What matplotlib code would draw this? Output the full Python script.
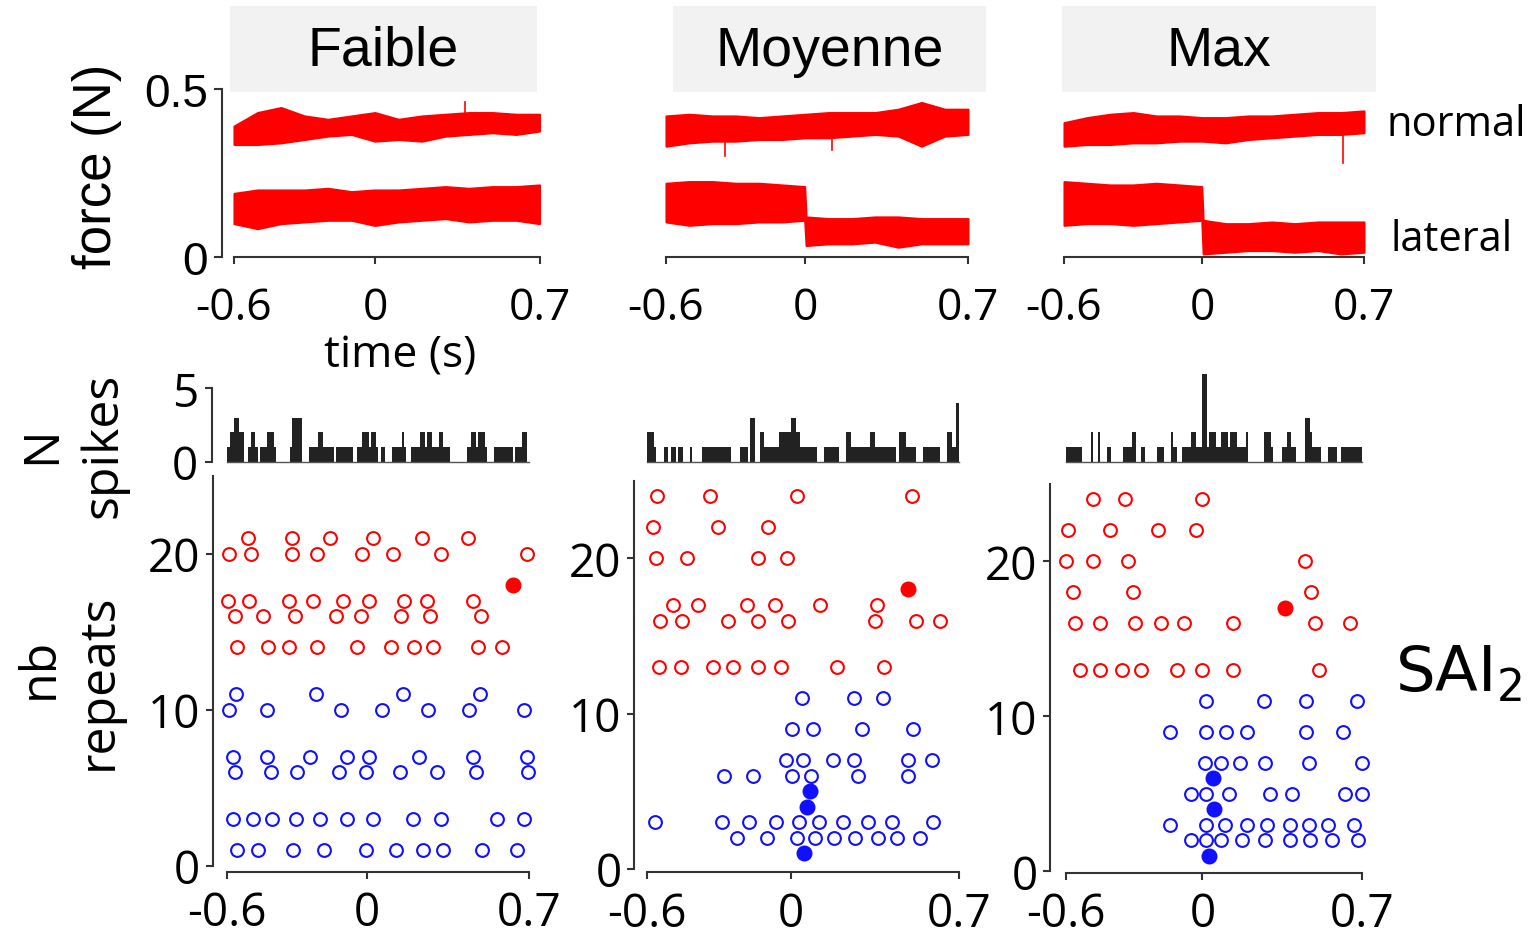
import matplotlib
matplotlib.use("Agg")
import matplotlib.pyplot as plt
from matplotlib.patches import Rectangle
import numpy as np

# ---------------- data ----------------
TITLES = ["Faible", "Moyenne", "Max"]
X_TICKS = [-0.6, 0, 0.7]
X_TICK_LABELS = ["-0.6", "0", "0.7"]

# force envelopes (N): normal force on a 0.1 s grid, lateral with a step at t=0
T_NORM = [-0.6, -0.5, -0.4, -0.3, -0.2, -0.1, 0.0, 0.1, 0.2, 0.3, 0.4, 0.5, 0.6, 0.7]
T_LAT = [-0.6, -0.5, -0.4, -0.3, -0.2, -0.1, -0.003, 0.003, 0.1, 0.2, 0.3, 0.4, 0.5, 0.6, 0.7]

NORM_UP = [
    [0.39, 0.43, 0.445, 0.42, 0.41, 0.42, 0.43, 0.41, 0.42, 0.425, 0.43, 0.43, 0.425, 0.425],
    [0.42, 0.425, 0.42, 0.42, 0.415, 0.42, 0.425, 0.43, 0.43, 0.43, 0.44, 0.46, 0.44, 0.44],
    [0.40, 0.415, 0.425, 0.43, 0.42, 0.42, 0.415, 0.415, 0.42, 0.42, 0.425, 0.43, 0.43, 0.435],
]
NORM_LO = [
    [0.335, 0.335, 0.34, 0.35, 0.36, 0.365, 0.345, 0.35, 0.345, 0.36, 0.365, 0.37, 0.365, 0.375],
    [0.33, 0.34, 0.345, 0.345, 0.35, 0.35, 0.355, 0.355, 0.36, 0.365, 0.36, 0.33, 0.36, 0.365],
    [0.33, 0.335, 0.335, 0.34, 0.34, 0.345, 0.345, 0.34, 0.35, 0.355, 0.36, 0.365, 0.365, 0.37],
]
LAT_UP = [
    [0.19, 0.20, 0.20, 0.20, 0.205, 0.195, 0.20, 0.20, 0.20, 0.205, 0.21, 0.205, 0.21, 0.21, 0.215],
    [0.22, 0.225, 0.225, 0.22, 0.22, 0.215, 0.21, 0.12, 0.115, 0.115, 0.12, 0.12, 0.115, 0.115, 0.115],
    [0.225, 0.22, 0.215, 0.215, 0.22, 0.215, 0.21, 0.11, 0.10, 0.10, 0.105, 0.10, 0.105, 0.105, 0.105],
]
LAT_LO = [
    [0.10, 0.085, 0.10, 0.105, 0.11, 0.11, 0.095, 0.095, 0.105, 0.11, 0.115, 0.105, 0.11, 0.11, 0.10],
    [0.105, 0.095, 0.10, 0.10, 0.105, 0.105, 0.11, 0.035, 0.04, 0.04, 0.045, 0.03, 0.04, 0.04, 0.04],
    [0.095, 0.10, 0.10, 0.095, 0.10, 0.105, 0.11, 0.01, 0.015, 0.02, 0.02, 0.015, 0.02, 0.01, 0.015],
]
# isolated glitches on the normal traces: (time, from, to)
GLITCH = [
    [(0.383, 0.42, 0.46)],
    [(-0.345, 0.34, 0.30), (0.115, 0.35, 0.32)],
    [(0.61, 0.37, 0.28)],
]

# spike-count histograms: 130 bins of 10 ms from -0.6 to 0.7 s
HIST_BIN = 0.01
HIST1 = [1,2,2,3,3,2,2,0,0,1, 2,2,1,0,1,1,1,2,2,2, 1,0,0,0,0,0,0,1,3,3,
         3,3,0,0,0,1,1,1,1,2, 2,1,1,1,1,1,0,1,1,1, 1,1,1,1,0,0,1,1,2,2,
         2,1,2,2,1,0,1,1,0,0, 0,1,1,1,1,2,1,0,0,1, 1,1,1,2,2,1,2,2,1,1,
         1,2,2,1,1,1,0,0,0,0, 0,0,0,1,1,2,2,1,2,2, 2,1,0,0,0,1,1,1,1,1,
         1,1,1,0,1,1,1,2,2,0]
HIST2 = [2,2,2,1,0,0,0,1,1,0, 1,1,0,1,1,0,0,0,1,0, 0,0,0,1,1,1,1,1,1,1,
         1,1,1,1,1,0,0,0,0,1, 1,1,0,3,3,0,0,2,2,1, 1,1,1,1,1,2,2,2,2,2,
         3,3,2,2,1,1,1,1,1,1, 1,0,0,0,1,1,1,1,1,1, 0,0,0,2,2,1,1,1,1,1,
         1,1,1,2,2,1,1,1,1,1, 1,1,1,1,0,2,2,2,1,1, 1,1,0,0,0,1,1,1,1,1,
         1,1,0,0,0,2,2,1,1,4]
HIST3 = [1,1,1,1,1,1,1,0,0,0, 0,2,0,0,2,0,0,0,1,1, 0,0,0,0,0,1,1,1,1,2,
         2,0,0,1,1,0,0,0,0,0, 1,1,1,0,0,0,2,1,1,0, 0,1,1,1,1,2,2,1,1,1,
         6,6,1,2,2,2,1,1,2,2, 2,1,2,2,2,1,1,1,1,2, 0,0,0,0,0,0,0,2,2,2,
         1,0,0,0,0,1,1,2,2,1, 1,0,0,0,0,3,3,2,1,1, 1,1,0,0,0,1,1,1,1,0,
         0,1,1,1,1,1,1,1,1,1]
HISTS = [HIST1, HIST2, HIST3]

# rasters: {repeat: [spike times]}
P1_RED = {21: [-0.51, -0.323, -0.158, 0.029, 0.237, 0.437],
          20: [-0.591, -0.498, -0.320, -0.215, -0.022, 0.115, 0.319, 0.691],
          17: [-0.596, -0.505, -0.333, -0.232, -0.101, 0.011, 0.162, 0.261, 0.459],
          16: [-0.567, -0.448, -0.309, -0.132, -0.025, 0.148, 0.272, 0.491],
          14: [-0.557, -0.424, -0.333, -0.215, -0.040, 0.103, 0.204, 0.287, 0.481, 0.581]}
P1_RED_FILLED = {18: [0.631]}
P1_BLUE = {11: [-0.563, -0.218, 0.155, 0.488],
           10: [-0.591, -0.428, -0.112, 0.065, 0.265, 0.442, 0.677],
           7: [-0.577, -0.430, -0.244, -0.086, 0.011, 0.227, 0.456, 0.689],
           6: [-0.567, -0.413, -0.301, -0.118, -0.003, 0.143, 0.301, 0.470, 0.696],
           3: [-0.574, -0.491, -0.406, -0.304, -0.201, -0.083, 0.026, 0.198, 0.320, 0.562, 0.677],
           1: [-0.557, -0.467, -0.319, -0.182, -0.003, 0.126, 0.244, 0.330, 0.495, 0.648]}
P1_BLUE_FILLED = {}

P2_RED = {24: [-0.558, -0.336, 0.025, 0.504],
          22: [-0.572, -0.303, -0.093],
          20: [-0.563, -0.433, -0.138, -0.017],
          17: [-0.492, -0.385, -0.181, -0.065, 0.122, 0.361],
          16: [-0.545, -0.454, -0.260, -0.135, -0.010, 0.351, 0.521, 0.622],
          13: [-0.547, -0.458, -0.322, -0.239, -0.138, -0.042, 0.194, 0.389]}
P2_RED_FILLED = {18: [0.488]}
P2_BLUE = {11: [0.046, 0.264, 0.386],
           9: [0.004, 0.094, 0.296, 0.508],
           7: [-0.020, 0.053, 0.175, 0.264, 0.488, 0.590],
           6: [-0.278, -0.158, 0.007, 0.083, 0.282, 0.490],
           3: [-0.565, -0.285, -0.172, -0.061, 0.036, 0.119, 0.219, 0.323, 0.421, 0.594],
           2: [-0.225, -0.100, 0.025, 0.101, 0.180, 0.268, 0.365, 0.444, 0.539]}
P2_BLUE_FILLED = {5: [0.080], 4: [0.067], 1: [0.055]}

P3_RED = {24: [-0.482, -0.341, -0.003],
          22: [-0.588, -0.407, -0.193, -0.029],
          20: [-0.598, -0.482, -0.326, 0.450],
          18: [-0.570, -0.304, 0.478],
          16: [-0.559, -0.449, -0.297, -0.180, -0.081, 0.134, 0.494, 0.646],
          13: [-0.537, -0.449, -0.351, -0.268, -0.113, -0.004, 0.134, 0.511]}
P3_RED_FILLED = {17: [0.361]}
P3_BLUE = {11: [0.014, 0.270, 0.453, 0.677],
           9: [-0.142, 0.014, 0.102, 0.194, 0.453, 0.618],
           7: [0.012, 0.083, 0.165, 0.273, 0.468, 0.70],
           5: [-0.051, 0.014, 0.117, 0.295, 0.392, 0.626, 0.70],
           3: [-0.142, 0.014, 0.098, 0.194, 0.282, 0.384, 0.468, 0.553, 0.665],
           2: [-0.051, 0.014, 0.083, 0.175, 0.275, 0.384, 0.472, 0.570, 0.683]}
P3_BLUE_FILLED = {6: [0.048], 4: [0.051], 1: [0.029]}

RASTERS = [(P1_RED, P1_RED_FILLED, P1_BLUE, P1_BLUE_FILLED),
           (P2_RED, P2_RED_FILLED, P2_BLUE, P2_BLUE_FILLED),
           (P3_RED, P3_RED_FILLED, P3_BLUE, P3_BLUE_FILLED)]

# ---------------- layout (pixels) ----------------
W, H = 1533, 937
plt.rcParams['font.family'] = ['Open Sans', 'DejaVu Sans']
ARIAL = ['Liberation Sans', 'DejaVu Sans']
SPINE = '#333333'
RED = '#ff0000'
BLUE = '#1010ff'

fig = plt.figure(figsize=(W / 100, H / 100), dpi=100)


def rect(x0, x1, ytop, ybot):
    return [x0 / W, 1 - ybot / H, (x1 - x0) / W, (ybot - ytop) / H]


def fpos(x, y):
    return x / W, 1 - y / H


FORCE_X = [(234, 539.5), (666, 968), (1064, 1364)]
HIST_X = [(227.3, 529.3), (646.7, 958.7), (1065.7, 1362)]
RAST_X = [(227.3, 529.3), (646.7, 958.7), (1065.7, 1362)]
RAST_Y0 = [866.7, 870.0, 872.3]
RAST_PX = [15.6, 15.53, 15.5]
RAST_LEFT_OUT = [10.5, 9.1, 11.3]
RAST_BOT_OUT = [4.5, 2.5, 1.5]
BOXES = [(230, 537), (673, 986), (1062, 1376)]
HIST_Y0, HIST_PX, HIST_TOP = 462.7, 14.68, 6.2

for i in range(3):
    # ---- title box ----
    bx0, bx1 = BOXES[i]
    fig.add_artist(Rectangle(fpos(bx0, 93), (bx1 - bx0) / W, 86 / H,
                             transform=fig.transFigure, facecolor='#f2f2f2',
                             edgecolor='none', zorder=0))
    fig.text(*fpos((bx0 + bx1) / 2, 52), TITLES[i], ha='center', va='center',
             fontsize=40, family=ARIAL)

    # ---- force ----
    ax = fig.add_axes(rect(FORCE_X[i][0], FORCE_X[i][1], 90, 258.3))
    ax.set_xlim(-0.6, 0.7)
    ax.set_ylim(0, 0.5)
    ax.patch.set_alpha(0)
    ax.fill_between(T_NORM, NORM_LO[i], NORM_UP[i], color=RED, lw=1.5, clip_on=False)
    ax.fill_between(T_LAT, LAT_LO[i], LAT_UP[i], color=RED, lw=1.5, clip_on=False)
    for (gt, g0, g1) in GLITCH[i]:
        ax.plot([gt, gt], [g0, g1], color=RED, lw=1.2, clip_on=False)
    for s in ['top', 'right']:
        ax.spines[s].set_visible(False)
    ax.spines['bottom'].set_bounds(-0.6, 0.7)
    ax.spines['bottom'].set_color(SPINE)
    ax.spines['bottom'].set_linewidth(1.5)
    ax.set_xticks(X_TICKS)
    ax.set_xticklabels(X_TICK_LABELS)
    ax.tick_params(axis='x', length=5, width=1.5, color=SPINE, pad=15, labelsize=32)
    if i == 0:
        ax.spines['left'].set_position(('outward', 8.6))
        ax.spines['left'].set_bounds(0, 0.5)
        ax.spines['left'].set_color(SPINE)
        ax.spines['left'].set_linewidth(1.5)
        ax.set_yticks([0, 0.5])
        ax.set_yticklabels(['0', '0.5'], family=ARIAL)
        ax.tick_params(axis='y', length=6, width=1.5, color=SPINE, pad=4, labelsize=33)
    else:
        ax.spines['left'].set_visible(False)
        ax.set_yticks([])

    # ---- histogram ----
    hx0, hx1 = HIST_X[i]
    ax = fig.add_axes(rect(hx0, hx1, HIST_Y0 - HIST_TOP * HIST_PX, HIST_Y0))
    ax.set_xlim(-0.6, 0.7)
    ax.set_ylim(0, HIST_TOP)
    ax.patch.set_alpha(0)
    counts = HISTS[i]
    edges = -0.6 + HIST_BIN * np.arange(len(counts))
    ax.bar(edges, counts, width=HIST_BIN, align='edge', color='#222222', linewidth=0)
    for s in ['top', 'right']:
        ax.spines[s].set_visible(False)
    ax.spines['bottom'].set_bounds(-0.6, 0.7)
    ax.spines['bottom'].set_color('#555555')
    ax.spines['bottom'].set_linewidth(1.0)
    ax.set_xticks([])
    if i == 0:
        ax.spines['left'].set_position(('outward', 11.2))
        ax.spines['left'].set_bounds(0, 5)
        ax.spines['left'].set_color(SPINE)
        ax.spines['left'].set_linewidth(1.5)
        ax.set_yticks([0, 5])
        ax.set_yticklabels(['0', '5'])
        ax.tick_params(axis='y', length=5, width=1.5, color=SPINE, pad=5, labelsize=33)
    else:
        ax.spines['left'].set_visible(False)
        ax.set_yticks([])

    # ---- raster ----
    rx0, rx1 = RAST_X[i]
    y0, pxr = RAST_Y0[i], RAST_PX[i]
    ax = fig.add_axes(rect(rx0, rx1, y0 - 25 * pxr, y0))
    ax.set_xlim(-0.6, 0.7)
    ax.set_ylim(0, 25)
    ax.patch.set_alpha(0)
    red, red_f, blue, blue_f = RASTERS[i]
    for rows, col, filled in [(red, RED, False), (blue, BLUE, False),
                              (red_f, RED, True), (blue_f, BLUE, True)]:
        for rep, times in rows.items():
            ax.plot(times, [rep] * len(times), ls='none', marker='o',
                    ms=10 if filled else 9.2, mew=1.5,
                    mfc=col if filled else 'none', mec=col, clip_on=False)
    for s in ['top', 'right']:
        ax.spines[s].set_visible(False)
    ax.spines['left'].set_position(('outward', RAST_LEFT_OUT[i]))
    ax.spines['left'].set_bounds(0, 25)
    ax.spines['bottom'].set_position(('outward', RAST_BOT_OUT[i]))
    ax.spines['bottom'].set_bounds(-0.6, 0.7)
    for s in ['left', 'bottom']:
        ax.spines[s].set_color(SPINE)
        ax.spines[s].set_linewidth(1.5)
    ax.set_xticks(X_TICKS)
    ax.set_xticklabels(X_TICK_LABELS)
    ax.set_yticks([0, 10, 20])
    ax.set_yticklabels(['0', '10', '20'])
    ax.tick_params(axis='x', length=5, width=1.5, color=SPINE, pad=8, labelsize=33)
    ax.tick_params(axis='y', length=5, width=1.5, color=SPINE, pad=4, labelsize=33)

# ---------------- free text ----------------
fig.text(*fpos(97, 166), "force (N)", rotation=90, ha='center', va='center',
         fontsize=38, family=ARIAL)
fig.text(*fpos(400, 356), "time (s)", ha='center', va='center', fontsize=32)
fig.text(*fpos(42, 445), "N", rotation=90, ha='center', va='center', fontsize=36)
fig.text(*fpos(104, 445), "spikes", rotation=90, ha='center', va='center', fontsize=36)
fig.text(*fpos(40, 668), "nb", rotation=90, ha='center', va='center', fontsize=36)
fig.text(*fpos(99, 682), "repeats", rotation=90, ha='center', va='center', fontsize=36)
fig.text(*fpos(1386, 125), "normal", ha='left', va='center', fontsize=30)
fig.text(*fpos(1391, 240), "lateral", ha='left', va='center', fontsize=30)
fig.text(*fpos(1395, 675), "SAI$_2$", ha='left', va='center', fontsize=45,
         family=['DejaVu Sans'])

fig.savefig("out.png", dpi=100)
